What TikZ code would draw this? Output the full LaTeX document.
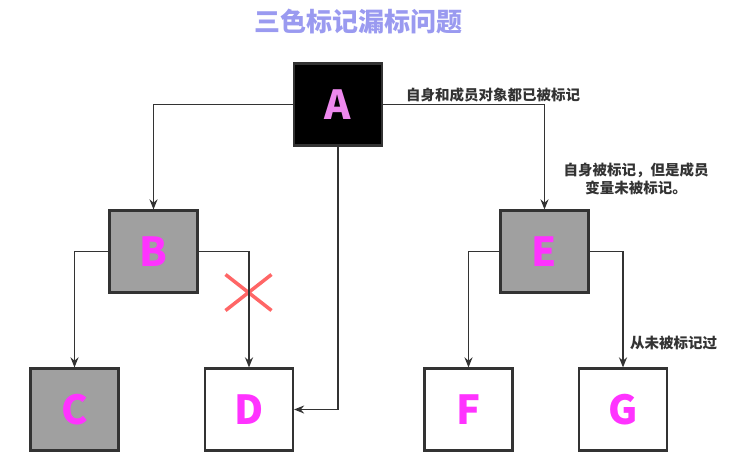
\documentclass[tikz,border=0pt]{standalone}
\usepackage{fontspec}
\setmainfont{Noto Sans CJK SC}
\usetikzlibrary{positioning, arrows.meta}
\definecolor{boxgray}{HTML}{A0A0A0}
\definecolor{linegray}{HTML}{333333}
\definecolor{lettermag}{HTML}{FF33FF}
\definecolor{letterpink}{HTML}{EE88EE}
\definecolor{titleblue}{HTML}{9A9AF0}
\definecolor{crossred}{HTML}{FF6666}

\begin{document}
\begin{tikzpicture}[x=1pt, y=-1pt, >={Stealth[length=10pt, width=8pt]},
    obj/.style={draw=linegray, line width=2.2pt, minimum width=88pt,
                minimum height=82pt, inner sep=0pt, text=lettermag,
                font=\bfseries\fontsize{40}{40}\selectfont},
    grey/.style={obj, fill=boxgray},
    blank/.style={obj, fill=white},
    lbl/.style={font=\bfseries\fontsize{14.5}{18}\selectfont, text=linegray,
                inner sep=1pt, align=center},
    link/.style={->, draw=linegray, line width=1.8pt}]
  \useasboundingbox (0,0) rectangle (739,466);
  \node[font=\bfseries\fontsize{26}{26}\selectfont, text=titleblue] (title) at (358,22) {三色标记漏标问题};
  % objects
  \node[obj, fill=black, text=letterpink] (a) at (338,104.5) {A};
  \node[grey]  (b) at (153.5,251.5) {B};
  \node[grey]  (c) at (74.5,409.5)  {C};
  \node[blank] (d) at (249,409.5)   {D};
  \node[grey]  (e) at (544.5,251.5) {E};
  \node[blank] (f) at (468.5,409.5) {F};
  \node[blank] (g) at (623,409.5)   {G};
  % the cut reference B -> D
  \coordinate (x) at (248.5,292.5);
  \draw[crossred, line width=3.5pt] (x) +(-23,-18) -- +(23,18)
                                    (x) +(-23,18) -- +(23,-18);
  \draw[link] (a.west) -| (b.north);
  \draw[link] (a.east) -| (e.north);
  \draw[link] (a.south) |- (d.east);
  \draw[link] (b.west) -| (c.north);
  \draw[link] (b.east) -| (d.north);
  \draw[link] (e.west) -| (f.north);
  \draw[link] (e.east) -| (g.north);
  % labels
  \node[lbl, anchor=west] (l1) at (405,95) {自身和成员对象都已被标记};
  \node[lbl] (l2) at (636,179) {自身被标记，但是成员\\变量未被标记。};
  \node[lbl, anchor=west] (l3) at (629,343) {从未被标记过};
\end{tikzpicture}
\end{document}
